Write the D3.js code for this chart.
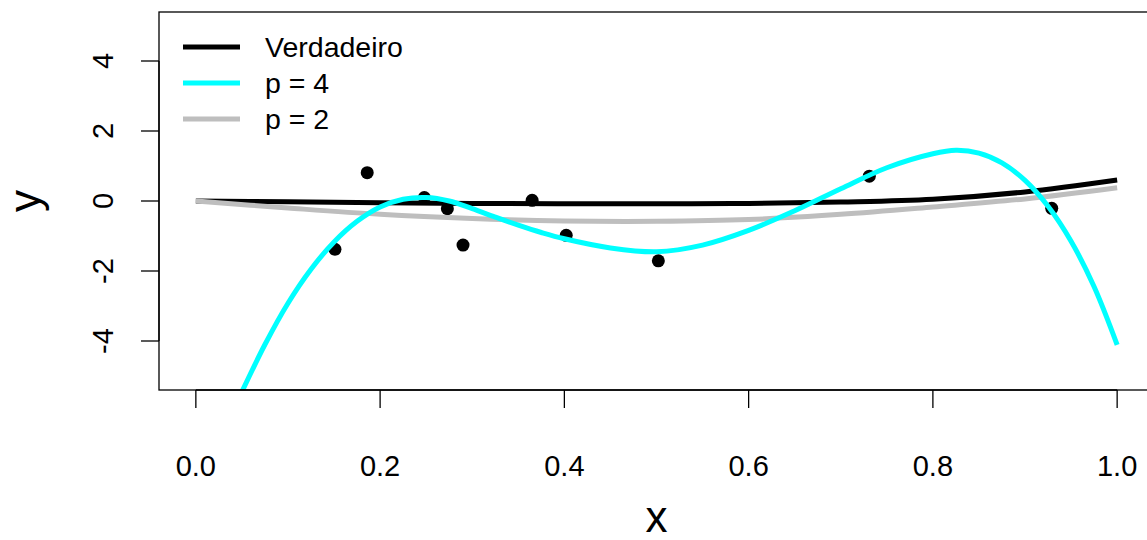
<!DOCTYPE html>
<html>
<head>
<meta charset="utf-8">
<script src="https://cdn.jsdelivr.net/npm/d3@7"></script>
<style>
  body { margin: 0; background: #fff; }
  text { font-family: "Liberation Sans", Arial, sans-serif; fill: #000; }
</style>
</head>
<body>
<svg id="chart" width="1147" height="540"></svg>
<script>
// observed points
const obsX = [0.151, 0.186, 0.248, 0.273, 0.290, 0.365, 0.402, 0.502, 0.731, 0.929];
const obsY = [-1.38, 0.81, 0.10, -0.22, -1.26, 0.02, -0.98, -1.71, 0.71, -0.21];

// "Verdadeiro" (true curve)
const trueX = [0.0, 0.1, 0.2, 0.3, 0.4, 0.5, 0.6, 0.7, 0.8, 0.9, 1.0];
const trueY = [0.0, -0.02, -0.05, -0.07, -0.08, -0.08, -0.07, -0.03, 0.05, 0.26, 0.60];

// p = 4 fit
const p4X = [0.05, 0.075, 0.1, 0.125, 0.15, 0.175, 0.2, 0.225, 0.25, 0.275, 0.3, 0.325, 0.35,
  0.375, 0.4, 0.45, 0.5, 0.55, 0.6, 0.65, 0.7, 0.75, 0.8, 0.825, 0.85, 0.875, 0.9, 0.925,
  0.95, 0.975, 1.0];
const p4Y = [-5.45, -4.10, -2.92, -1.95, -1.17, -0.58, -0.17, 0.05, 0.10, 0.00, -0.22, -0.46, -0.69,
  -0.90, -1.08, -1.34, -1.45, -1.26, -0.84, -0.28, 0.35, 0.95, 1.35, 1.45, 1.37, 1.09, 0.59, -0.15,
  -1.15, -2.45, -4.11];

// p = 2 fit
const p2X = [0.0, 0.1, 0.2, 0.3, 0.4, 0.5, 0.6, 0.7, 0.8, 0.9, 1.0];
const p2Y = [0.0, -0.20, -0.38, -0.50, -0.57, -0.58, -0.53, -0.38, -0.17, 0.06, 0.38];

const xTicks = [0, 0.2, 0.4, 0.6, 0.8, 1.0];
const yTicks = [-4, -2, 0, 2, 4];

const legendLabels = ['Verdadeiro', 'p = 4', 'p = 2'];
const legendColors = ['#000000', '#00ffff', '#bebebe'];

const plotLeft = 159, plotRight = 1154, plotTop = 12, plotBottom = 390;

const x = d3.scaleLinear().domain([-0.04, 1.04]).range([plotLeft, plotRight]);
const y = d3.scaleLinear().domain([-5.4, 5.4]).range([plotBottom, plotTop]);

const svg = d3.select('#chart');

svg.append('clipPath')
  .attr('id', 'plotClip')
  .append('rect')
  .attr('x', plotLeft)
  .attr('y', plotTop)
  .attr('width', plotRight - plotLeft)
  .attr('height', plotBottom - plotTop);

const plot = svg.append('g').attr('clip-path', 'url(#plotClip)');

plot.selectAll('circle.obs')
  .data(obsX.map((v, i) => [v, obsY[i]]))
  .enter()
  .append('circle')
  .attr('class', 'obs')
  .attr('cx', d => x(d[0]))
  .attr('cy', d => y(d[1]))
  .attr('r', 6.5)
  .attr('fill', '#000');

const line = d3.line()
  .x(d => x(d[0]))
  .y(d => y(d[1]))
  .curve(d3.curveCatmullRom.alpha(0.5));

const zip = (xs, ys) => xs.map((v, i) => [v, ys[i]]);

plot.append('path')
  .datum(zip(trueX, trueY))
  .attr('d', line)
  .attr('fill', 'none')
  .attr('stroke', legendColors[0])
  .attr('stroke-width', 5);

plot.append('path')
  .datum(zip(p2X, p2Y))
  .attr('d', line)
  .attr('fill', 'none')
  .attr('stroke', legendColors[2])
  .attr('stroke-width', 5);

plot.append('path')
  .datum(zip(p4X, p4Y))
  .attr('d', line)
  .attr('fill', 'none')
  .attr('stroke', legendColors[1])
  .attr('stroke-width', 5);

// box
svg.append('rect')
  .attr('x', plotLeft)
  .attr('y', plotTop)
  .attr('width', plotRight - plotLeft)
  .attr('height', plotBottom - plotTop)
  .attr('fill', 'none')
  .attr('stroke', '#000')
  .attr('stroke-width', 1.3);

// x axis
const xAxis = svg.append('g').attr('transform', `translate(0,${plotBottom})`);
xAxis.append('line')
  .attr('x1', x(0)).attr('x2', x(1))
  .attr('stroke', '#000').attr('stroke-width', 1.3);
xAxis.selectAll('line.tick')
  .data(xTicks)
  .enter()
  .append('line')
  .attr('class', 'tick')
  .attr('x1', d => x(d)).attr('x2', d => x(d))
  .attr('y1', 0).attr('y2', 18)
  .attr('stroke', '#000').attr('stroke-width', 1.3);
xAxis.selectAll('text')
  .data(xTicks)
  .enter()
  .append('text')
  .attr('x', d => x(d))
  .attr('y', 86)
  .attr('text-anchor', 'middle')
  .style('font-size', '29px')
  .text(d => d3.format('.1f')(d));

// y axis
const yAxis = svg.append('g').attr('transform', `translate(${plotLeft},0)`);
yAxis.append('line')
  .attr('y1', y(-4)).attr('y2', y(4))
  .attr('stroke', '#000').attr('stroke-width', 1.3);
yAxis.selectAll('line.tick')
  .data(yTicks)
  .enter()
  .append('line')
  .attr('class', 'tick')
  .attr('y1', d => y(d)).attr('y2', d => y(d))
  .attr('x1', 0).attr('x2', -18)
  .attr('stroke', '#000').attr('stroke-width', 1.3);
yAxis.selectAll('text')
  .data(yTicks)
  .enter()
  .append('text')
  .attr('transform', d => `translate(-46,${y(d)}) rotate(-90)`)
  .attr('text-anchor', 'middle')
  .style('font-size', '29px')
  .text(d => d);

// axis titles
svg.append('text')
  .attr('x', x(0.5))
  .attr('y', 532)
  .attr('text-anchor', 'middle')
  .style('font-size', '44px')
  .text('x');

svg.append('text')
  .attr('transform', `translate(40,${y(0)}) rotate(-90)`)
  .attr('text-anchor', 'middle')
  .style('font-size', '44px')
  .text('y');

// legend
const legend = svg.append('g');
legendLabels.forEach((label, i) => {
  const ly = 47 + i * 36;
  legend.append('line')
    .attr('x1', 183).attr('x2', 240)
    .attr('y1', ly).attr('y2', ly)
    .attr('stroke', legendColors[i])
    .attr('stroke-width', 5);
  legend.append('text')
    .attr('x', 265)
    .attr('y', ly + 10)
    .style('font-size', '28.5px')
    .text(label);
});
</script>
</body>
</html>
